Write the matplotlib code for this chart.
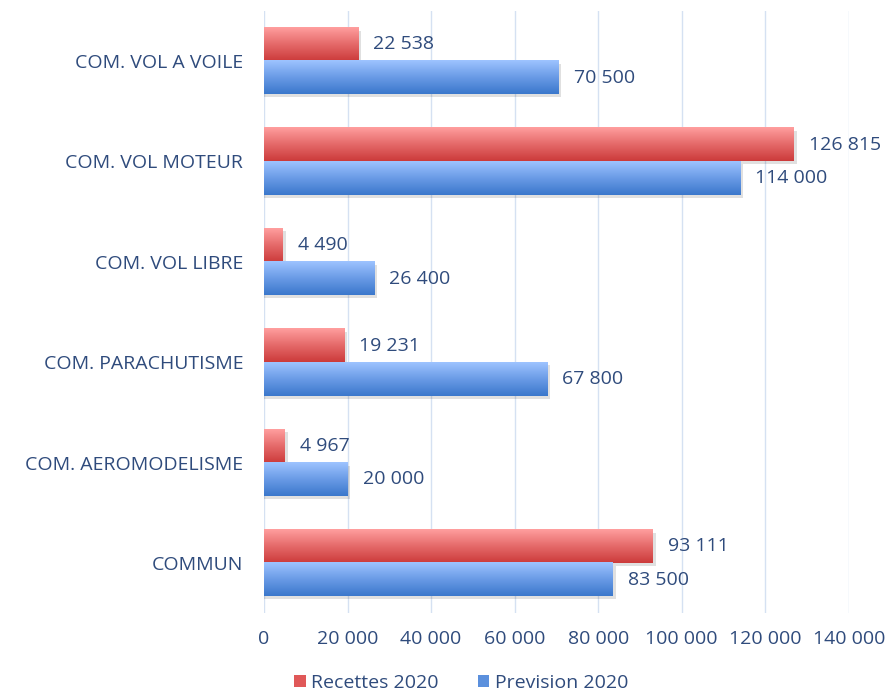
import numpy as np
import matplotlib.pyplot as plt
from matplotlib.colors import LinearSegmentedColormap
from matplotlib.patches import Patch

categories = ['COMMUN', 'COM. AEROMODELISME', 'COM. PARACHUTISME',
              'COM. VOL LIBRE', 'COM. VOL MOTEUR', 'COM. VOL A VOILE']
recettes = [93111, 4967, 19231, 4490, 126815, 22538]
prevision = [83500, 20000, 67800, 26400, 114000, 70500]
xticks = [0, 20000, 40000, 60000, 80000, 100000, 120000, 140000]

plt.rcParams['font.family'] = ['Open Sans', 'DejaVu Sans']
txt = '#2F4B7C'
fs = 14

def fmt(v):
    return f'{v:,}'.replace(',', ' ')

fig = plt.figure(figsize=(8.87, 6.94), dpi=100)
ax = fig.add_axes([0.2976, 0.1164, 0.957 - 0.2976, 0.868])

y = np.arange(len(categories))
h = 0.333

red_cmap = LinearSegmentedColormap.from_list('r', ['#CC3B3B', '#E56A6A', '#FF9E9E'])
blue_cmap = LinearSegmentedColormap.from_list('b', ['#3B78CC', '#6A9BE6', '#9DC3FF'])
grad = np.linspace(0, 1, 64).reshape(-1, 1)

def gradient_bars(vals, ypos, cmap):
    bars = ax.barh(ypos, vals, height=h, color='none', edgecolor='none', zorder=3)
    for b in bars:
        x0, y0 = b.get_xy()
        # shadow
        ax.add_patch(plt.Rectangle((x0, y0 - 0.03), b.get_width() + 700, b.get_height(),
                                   color='#000000', alpha=0.12, zorder=2, lw=0))
        ax.imshow(grad, cmap=cmap, aspect='auto', origin='lower',
                  extent=[x0, x0 + b.get_width(), y0, y0 + b.get_height()],
                  zorder=3)
    return bars

gradient_bars(recettes, y + h / 2, red_cmap)
gradient_bars(prevision, y - h / 2, blue_cmap)

for i in range(len(categories)):
    ax.text(recettes[i] + 3600, y[i] + h / 2, fmt(recettes[i]), va='center',
            ha='left', fontsize=fs, color=txt)
    ax.text(prevision[i] + 3600, y[i] - h / 2, fmt(prevision[i]), va='center',
            ha='left', fontsize=fs, color=txt)

ax.set_xlim(0, 140000)
ax.set_ylim(-0.5, len(categories) - 0.5)
ax.set_xticks(xticks)
ax.set_xticklabels([fmt(v) for v in xticks], fontsize=fs, color=txt)
ax.set_yticks(y)
ax.set_yticklabels(categories, fontsize=fs, color=txt)
ax.tick_params(length=0)
ax.tick_params(axis='y', pad=15)
ax.tick_params(axis='x', pad=12)
ax.grid(axis='x', color='#D5E1F2', lw=1)
ax.set_axisbelow(True)
for s in ax.spines.values():
    s.set_visible(False)

handles = [Patch(facecolor='#E05858', label='Recettes 2020'),
           Patch(facecolor='#5B90DD', label='Prevision 2020')]
fig.legend(handles=handles, loc='center', bbox_to_anchor=(0.52, 0.016),
           ncol=2, frameon=False, fontsize=fs, handlelength=0.6,
           handleheight=0.6, handletextpad=0.3, columnspacing=2.0,
           labelcolor=txt)

fig.savefig('out.png', dpi=100)
